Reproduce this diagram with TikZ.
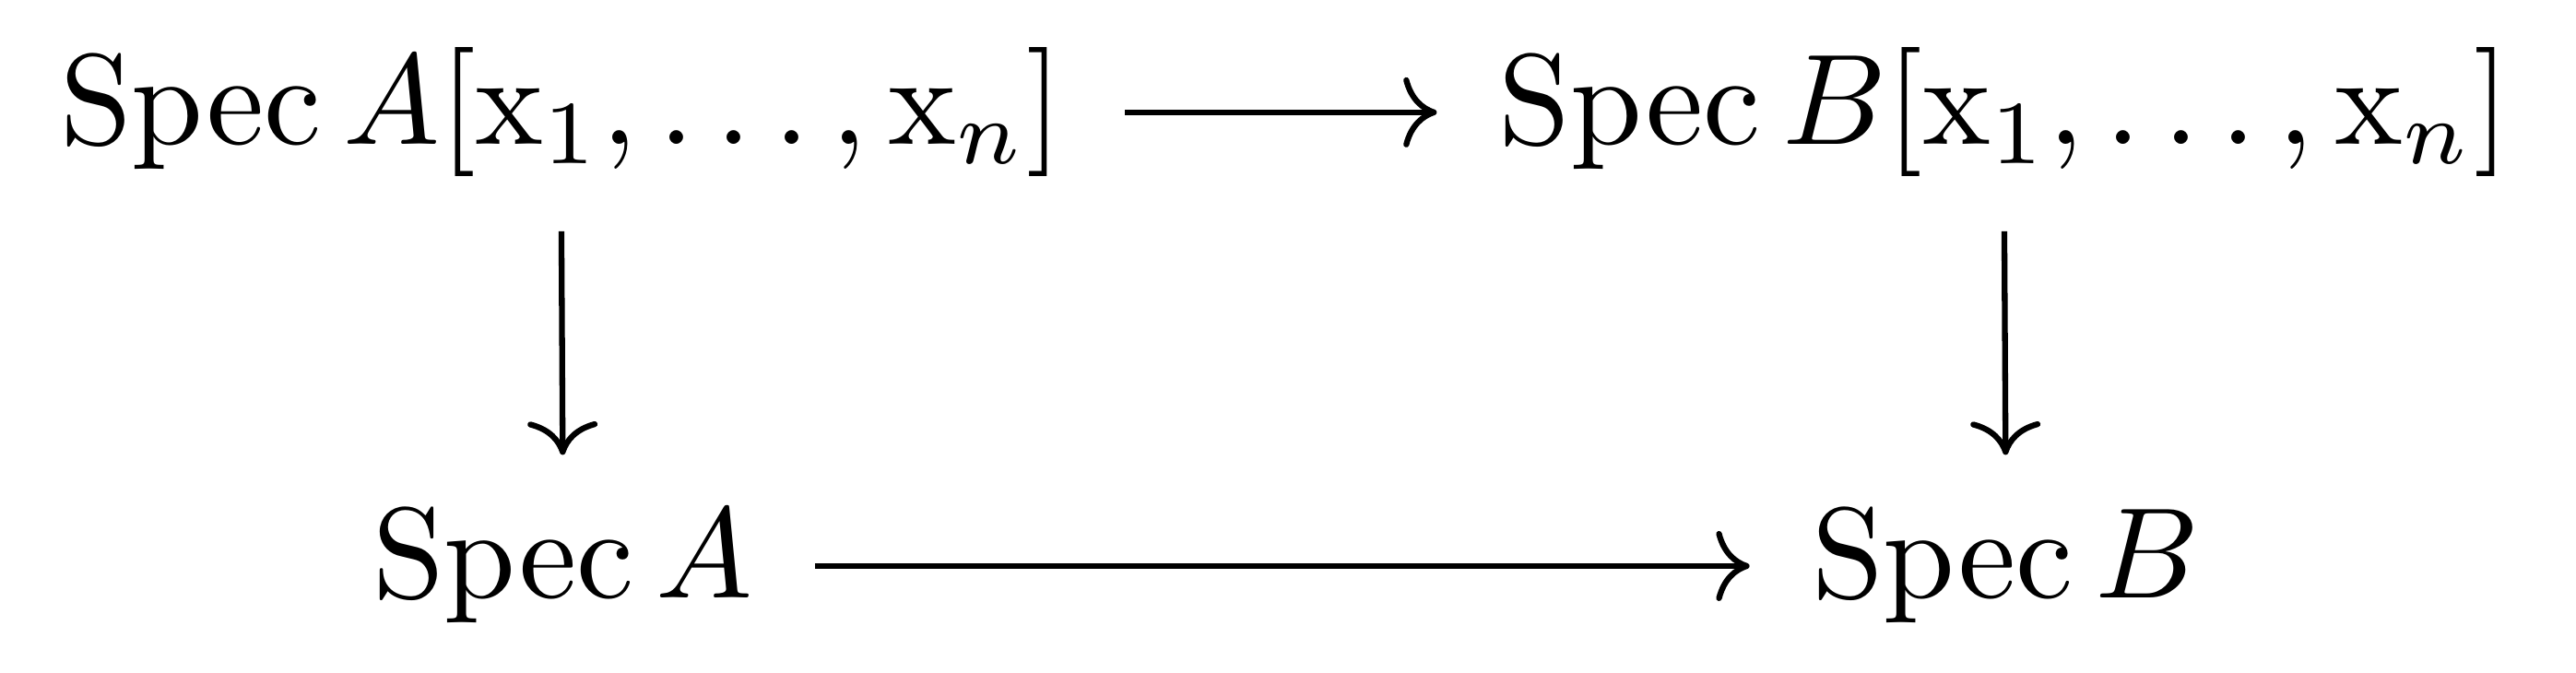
\documentclass[tikz,border=0pt]{standalone}
\usepackage{amsmath,amssymb}
\usetikzlibrary{arrows.meta}
\tikzset{obj/.style={anchor=base,inner xsep=4.6pt,inner ysep=4pt}}

\begin{document}
\begin{tikzpicture}[x=1pt,y=1pt,>={Computer Modern Rightarrow},line width=.45pt]
\useasboundingbox (0,0) rectangle (199.6,52.1);
\node[obj] (SAx) at (43.5,40.9) {$\operatorname{Spec}A[\mathrm{x}_1,\ldots,\mathrm{x}_n]$};
\node[obj] (SBx) at (155.3,40.9) {$\operatorname{Spec}B[\mathrm{x}_1,\ldots,\mathrm{x}_n]$};
\node[obj] (SA) at (43.6,5.8) {$\operatorname{Spec}A$};
\node[obj] (SB) at (155.4,5.8) {$\operatorname{Spec}B$};
\draw[->] (SAx)--(SBx);
\draw[->] (SAx.south)--(SA.north);
\draw[->] (SBx.south)--(SB.north);
\draw[->] (SA)--(SB);
\end{tikzpicture}
\end{document}
